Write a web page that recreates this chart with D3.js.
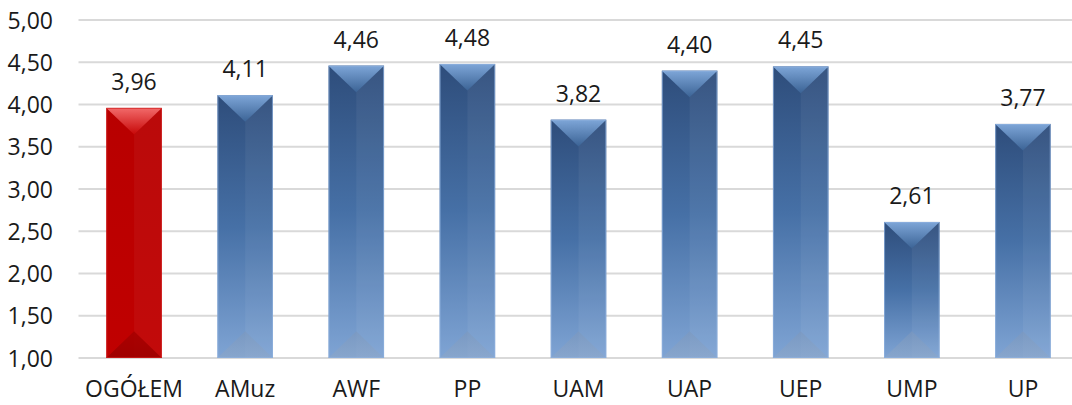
<!DOCTYPE html>
<html>
<head>
<meta charset="utf-8">
<script src="https://cdn.jsdelivr.net/npm/d3@7"></script>
<style>
  html, body { margin: 0; padding: 0; background: #fff; }
  svg { display: block; }
  text { font-family: "Open Sans", "Liberation Sans", sans-serif; fill: #1a1a1a; }
</style>
</head>
<body>
<svg id="chart" width="1072" height="405"></svg>
<script>
const categories = ["OGÓŁEM", "AMuz", "AWF", "PP", "UAM", "UAP", "UEP", "UMP", "UP"];
const values = [3.96, 4.11, 4.46, 4.48, 3.82, 4.40, 4.45, 2.61, 3.77];
const highlighted = ["OGÓŁEM"];
const yTicks = [1.0, 1.5, 2.0, 2.5, 3.0, 3.5, 4.0, 4.5, 5.0];

const W = 1072, H = 405;
const svg = d3.select("#chart");
const fmt = v => d3.format(".2f")(v).replace(".", ",");

const x = d3.scaleBand().domain(categories).range([78.5, 1078.5]).paddingInner(0.5).paddingOuter(0.25);
const y = d3.scaleLinear().domain([1, 5]).range([358, 20]);

const defs = svg.append("defs");
function lg(id, stops, x2, y2) {
  const g = defs.append("linearGradient").attr("id", id)
    .attr("x1", 0).attr("y1", 0).attr("x2", x2).attr("y2", y2);
  stops.forEach(s => g.append("stop").attr("offset", s[0]).attr("stop-color", s[1]).attr("stop-opacity", s[2] === undefined ? 1 : s[2]));
}
lg("blueBody", [[0, "#2e4d7b"], [0.5, "#4670a6"], [1, "#7fa4d4"]], 0, 1);
lg("redBody", [[0, "#b80000"], [1, "#c00000"]], 0, 1);
lg("blueTop", [[0, "#7ea6d8"], [1, "#3b6395"]], 0, 1);
lg("redTop", [[0, "#f26a6a"], [1, "#c70808"]], 0, 1);
lg("blueBot", [[0, "#7d98bd"], [1, "#8da7c8"]], 0, 1);
lg("redBot", [[0, "#a80000"], [1, "#9c0000"]], 0, 1);

// gridlines
const grid = svg.append("g");
grid.selectAll("line").data(yTicks).join("line")
  .attr("x1", 78.5).attr("x2", W)
  .attr("y1", d => y(d)).attr("y2", d => y(d))
  .attr("stroke", "#d9d9d9").attr("stroke-width", 2);

// y axis labels
const yAxis = d3.axisLeft(y).tickValues(yTicks).tickFormat(fmt).tickSize(0).tickPadding(0);
const ya = svg.append("g").attr("transform", "translate(53,0)").call(yAxis);
ya.select(".domain").remove();
ya.selectAll("text").attr("font-size", 23).attr("font-family", null).attr("fill", "#1a1a1a").attr("dy", "0.35em");

// x axis labels
const xAxis = d3.axisBottom(x).tickSize(0).tickPadding(0);
const xa = svg.append("g").attr("transform", "translate(0,397)").call(xAxis);
xa.select(".domain").remove();
xa.selectAll("text").attr("font-size", 23).attr("font-family", null).attr("fill", "#1a1a1a").attr("dy", 0).attr("y", 0);

// bars
const bw = x.bandwidth();
const bars = svg.append("g").selectAll("g").data(categories.map((c, i) => ({c, v: values[i]}))).join("g");
bars.each(function(d) {
  const g = d3.select(this);
  const red = highlighted.includes(d.c);
  const x0 = x(d.c), x1 = x0 + bw, xc = x0 + bw / 2;
  const y0 = y(d.v), yb = y(1);
  const dep = Math.min(bw * 0.48, (yb - y0) / 2);
  g.append("rect").attr("x", x0).attr("y", y0).attr("width", bw).attr("height", yb - y0)
    .attr("fill", red ? "url(#redBody)" : "url(#blueBody)");
  // right half slightly lighter
  g.append("rect").attr("x", xc).attr("y", y0).attr("width", bw / 2).attr("height", yb - y0)
    .attr("fill", "#fff").attr("opacity", red ? 0.04 : 0.05);
  // top bevel
  g.append("polygon").attr("points", [[x0, y0], [x1, y0], [xc, y0 + dep]].join(" "))
    .attr("fill", red ? "url(#redTop)" : "url(#blueTop)");
  // bottom bevel
  g.append("polygon").attr("points", [[x0, yb], [x1, yb], [xc, yb - dep]].join(" "))
    .attr("fill", red ? "url(#redBot)" : "url(#blueBot)").attr("opacity", red ? 0.9 : 0.6);
  // edges
  g.append("rect").attr("x", x0 + 0.5).attr("y", y0 + 0.5).attr("width", bw - 1).attr("height", yb - y0 - 1)
    .attr("fill", "none").attr("stroke", red ? "#d02020" : "#8fb0de").attr("stroke-width", 1).attr("opacity", 0.7);
  // value label
  g.append("text").attr("x", xc).attr("y", y0 - 18).attr("text-anchor", "middle")
    .attr("font-size", 23).text(fmt(d.v));
});
</script>
</body>
</html>
